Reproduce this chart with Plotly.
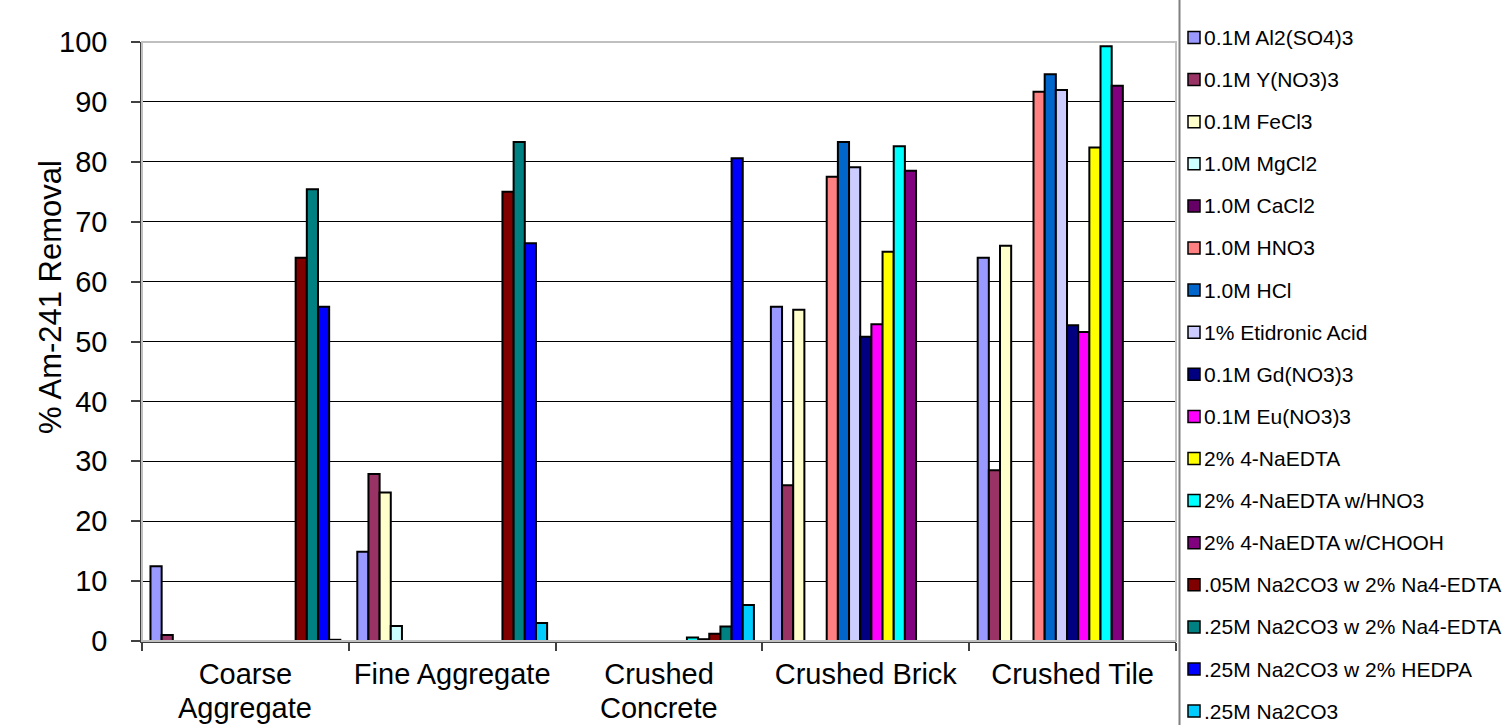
import plotly.graph_objects as go

# Substrates (x categories) and their axis labels
categories = ["Coarse Aggregate", "Fine Aggregate", "Crushed Concrete", "Crushed Brick", "Crushed Tile"]
category_labels = ["Coarse<br>Aggregate", "Fine Aggregate", "Crushed<br>Concrete", "Crushed Brick", "Crushed Tile"]

# Decontamination solutions (one bar series each)
solutions = [
    "0.1M Al2(SO4)3", "0.1M Y(NO3)3", "0.1M FeCl3", "1.0M MgCl2", "1.0M CaCl2",
    "1.0M HNO3", "1.0M HCl", "1% Etidronic Acid", "0.1M Gd(NO3)3", "0.1M Eu(NO3)3",
    "2% 4-NaEDTA", "2% 4-NaEDTA w/HNO3", "2% 4-NaEDTA w/CHOOH",
    ".05M Na2CO3 w 2% Na4-EDTA", ".25M Na2CO3 w 2% Na4-EDTA",
    ".25M Na2CO3 w 2% HEDPA", ".25M Na2CO3",
]

# % Am-241 removal per solution, ordered as categories (None = not tested)
al2so43     = [12.5, 14.9, None, 55.8, 64.0]
y_no3       = [1.0, 27.9, None, 26.0, 28.5]
fecl3       = [None, 24.8, None, 55.3, 66.0]
mgcl2       = [None, 2.5, None, None, None]
cacl2       = [None, None, None, None, None]
hno3        = [None, None, None, 77.5, 91.7]
hcl         = [None, None, None, 83.3, 94.6]
etidronic   = [None, None, None, 79.1, 92.0]
gd_no3      = [None, None, None, 50.8, 52.7]
eu_no3      = [None, None, None, 52.9, 51.6]
naedta      = [None, None, None, 65.0, 82.4]
naedta_hno3 = [None, None, 0.6, 82.6, 99.3]
naedta_chooh = [None, None, 0.3, 78.5, 92.7]
na2co3_05_edta = [64.0, 75.0, 1.2, None, None]
na2co3_25_edta = [75.4, 83.3, 2.4, None, None]
na2co3_25_hedpa = [55.8, 66.4, 80.6, None, None]
na2co3_25   = [0.2, 3.0, 6.0, None, None]

series_values = [
    al2so43, y_no3, fecl3, mgcl2, cacl2, hno3, hcl, etidronic, gd_no3, eu_no3,
    naedta, naedta_hno3, naedta_chooh, na2co3_05_edta, na2co3_25_edta,
    na2co3_25_hedpa, na2co3_25,
]

colors = [
    "#9999FF", "#993366", "#FFFFCC", "#CCFFFF", "#660066", "#FF8080", "#0066CC",
    "#CCCCFF", "#000080", "#FF00FF", "#FFFF00", "#00FFFF", "#800080", "#800000",
    "#008080", "#0000FF", "#00CCFF",
]

y_ticks = list(range(0, 101, 10))

# Figure geometry (pixels)
W, H = 1503, 725
PL, PR, PT, PB = 142, 1176, 42, 641
FONT = "Liberation Sans, Arial, sans-serif"
LABEL_SIZE = 29
LABEL_LINE = 32  # tighter line spacing for wrapped category labels


def px_x(x):
    return (x - PL) / (PR - PL)


def px_y(y):
    return (PB - y) / (PB - PT)


fig = go.Figure()
for name, vals, col in zip(solutions, series_values, colors):
    fig.add_trace(go.Bar(
        name=name, x=categories, y=vals,
        marker=dict(color=col, line=dict(color="black", width=2)),
        showlegend=False,
    ))

shapes = []
annotations = []

# Plot-area frame (top/right edge)
shapes.append(dict(type="rect", xref="paper", yref="paper", x0=0, x1=1, y0=0, y1=1,
                   line=dict(color="#c0c0c0", width=2), layer="above"))

# Category labels: first line as tick text, following lines placed below it
first_lines = []
for cat, lab in zip(categories, category_labels):
    parts = lab.split("<br>")
    first_lines.append(parts[0])
    for k, extra in enumerate(parts[1:], start=1):
        annotations.append(dict(text=extra, xref="x", yref="paper",
                                x=cat, y=px_y(676 + k * LABEL_LINE),
                                xanchor="center", yanchor="middle", showarrow=False,
                                font=dict(family=FONT, size=LABEL_SIZE, color="black")))

# Legend: left rule, swatches and labels
shapes.append(dict(type="line", xref="paper", yref="paper",
                   x0=px_x(1179.5), x1=px_x(1179.5), y0=px_y(-5), y1=px_y(730),
                   line=dict(color="#808080", width=2)))
first_y, step = 37.5, 42.1
for i, (name, col) in enumerate(zip(solutions, colors)):
    cy = first_y + i * step
    shapes.append(dict(type="rect", xref="paper", yref="paper",
                       x0=px_x(1188), x1=px_x(1200), y0=px_y(cy + 6), y1=px_y(cy - 6),
                       fillcolor=col, line=dict(color="black", width=1.5)))
    annotations.append(dict(text=name, xref="paper", yref="paper",
                            x=px_x(1202), y=px_y(cy), xanchor="left", yanchor="middle",
                            showarrow=False, font=dict(family=FONT, size=21, color="black")))

# Y-axis title
annotations.append(dict(text="% Am-241 Removal", xref="paper", yref="paper",
                        x=px_x(50), y=px_y(297), xanchor="center", yanchor="middle",
                        textangle=-90, showarrow=False,
                        font=dict(family=FONT, size=31, color="black")))

fig.update_layout(
    width=W, height=H, autosize=False,
    margin=dict(l=PL, r=W - PR, t=PT, b=H - PB, pad=0, autoexpand=False),
    paper_bgcolor="white", plot_bgcolor="white",
    barmode="group", bargap=0.082, bargroupgap=0,
    font=dict(family=FONT, color="black"),
    shapes=shapes, annotations=annotations,
    showlegend=False,
)

fig.update_xaxes(
    type="category", categoryorder="array", categoryarray=categories,
    tickvals=categories, ticktext=first_lines,
    tickson="boundaries", ticks="outside", ticklen=8, tickwidth=1.5, tickcolor="#404040",
    showline=True, linecolor="#404040", linewidth=1.5,
    showgrid=False, tickfont=dict(family=FONT, size=LABEL_SIZE, color="black"),
    ticklabelstandoff=6, automargin=False,
    range=[-0.5, 4.5],
)
fig.update_yaxes(
    range=[0, 100], tickvals=y_ticks, ticktext=[str(v) for v in y_ticks],
    ticks="outside", ticklen=9, tickwidth=1.5, tickcolor="#404040",
    showline=True, linecolor="#404040", linewidth=1.5,
    showgrid=True, gridcolor="black", gridwidth=1, zeroline=False,
    tickfont=dict(family=FONT, size=29, color="black"),
    ticklabelstandoff=18, automargin=False,
)

fig.write_html("out.html")
